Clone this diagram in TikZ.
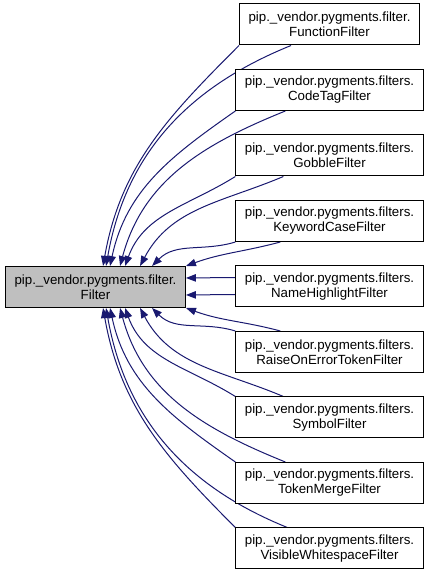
\documentclass[tikz,border=0pt]{standalone}
\usepackage{fontspec}
\setmainfont{Liberation Sans}
\usetikzlibrary{arrows.meta,calc,backgrounds}
\definecolor{edgeblue}{RGB}{25,25,112}
\definecolor{basegray}{RGB}{191,191,191}

\begin{document}
\begin{tikzpicture}[x=1pt,y=1pt,>={Triangle[length=10pt,width=7.5pt]},
  every node/.style={font=\fontsize{13.3}{15}\selectfont},
  cls/.style={draw=black,line width=1pt,fill=white,align=center,inner xsep=9pt,inner ysep=0pt,minimum height=41pt},
  inh/.style={<-,draw=edgeblue,line width=1pt}]
\useasboundingbox (0,0) rectangle (429,575);
\node[cls,fill=basegray] (base) at (95.5,288) {pip.\_vendor.pygments.filter.\\Filter};
\foreach \i/\pkg/\cls in {1/filter/FunctionFilter,2/filters/CodeTagFilter,3/filters/GobbleFilter,
  4/filters/KeywordCaseFilter,5/filters/NameHighlightFilter,6/filters/RaiseOnErrorTokenFilter,
  7/filters/SymbolFilter,8/filters/TokenMergeFilter,9/filters/VisibleWhitespaceFilter}
  \node[cls] (f\i) at (329.5,{550.5-65.5*(\i-1)}) {pip.\_vendor.pygments.\pkg.\\\cls};
\begin{scope}[on background layer]
% upper half
\draw[inh] ($(base.north west)+(98,0)$) to[out=80,in=225] (f1.south west);
\draw[inh] ($(base.north west)+(101,0)$) to[out=80,in=202] ($(f1.south west)+(52,0)$);
\draw[inh] ($(base.north west)+(105,0)$) to[out=78,in=215] (f2.south west);
\draw[inh] ($(base.north west)+(115,0)$) to[out=75,in=202] ($(f2.south west)+(50,0)$);
\draw[inh] ($(base.north west)+(120,0)$) to[out=70,in=212] (f3.south west);
\draw[inh] ($(base.north west)+(135,0)$) to[out=62,in=203] ($(f3.south west)+(48,0)$);
\draw[inh] ($(base.north west)+(147,0)$) to[out=45,in=197] (f4.south west);
\draw[inh] (base.north east) to[out=20,in=195] ($(f4.south west)+(45,0)$);
% middle
\draw[inh] ($(base.east)+(0,9)$) -- ($(f5.west)+(0,9)$);
\draw[inh] ($(base.east)+(0,-8)$) -- ($(f5.west)+(0,-8)$);
% lower half
\draw[inh] (base.south east) to[out=-20,in=165] ($(f6.north west)+(45,0)$);
\draw[inh] ($(base.south west)+(147,0)$) to[out=-45,in=163] (f6.north west);
\draw[inh] ($(base.south west)+(135,0)$) to[out=-62,in=157] ($(f7.north west)+(48,0)$);
\draw[inh] ($(base.south west)+(120,0)$) to[out=-70,in=148] (f7.north west);
\draw[inh] ($(base.south west)+(115,0)$) to[out=-75,in=158] ($(f8.north west)+(50,0)$);
\draw[inh] ($(base.south west)+(105,0)$) to[out=-78,in=145] (f8.north west);
\draw[inh] ($(base.south west)+(101,0)$) to[out=-80,in=158] ($(f9.north west)+(52,0)$);
\draw[inh] ($(base.south west)+(98,0)$) to[out=-80,in=135] (f9.north west);
\end{scope}
\end{tikzpicture}
\end{document}
